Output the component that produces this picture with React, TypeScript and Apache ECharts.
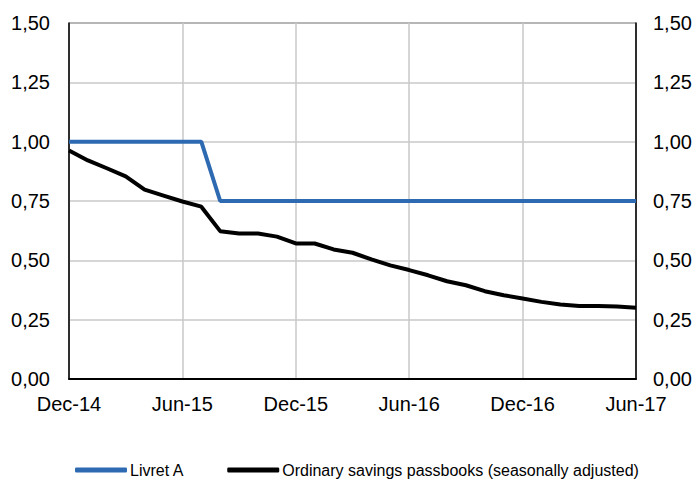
import React, { useEffect, useRef } from "react";
import * as echarts from "echarts";

const months: string[] = [
  "Dec-14", "Jan-15", "Feb-15", "Mar-15", "Apr-15", "May-15", "Jun-15",
  "Jul-15", "Aug-15", "Sep-15", "Oct-15", "Nov-15", "Dec-15",
  "Jan-16", "Feb-16", "Mar-16", "Apr-16", "May-16", "Jun-16",
  "Jul-16", "Aug-16", "Sep-16", "Oct-16", "Nov-16", "Dec-16",
  "Jan-17", "Feb-17", "Mar-17", "Apr-17", "May-17", "Jun-17",
];

const livretA: number[] = [
  1.0, 1.0, 1.0, 1.0, 1.0, 1.0, 1.0, 1.0,
  0.75, 0.75, 0.75, 0.75, 0.75, 0.75, 0.75, 0.75, 0.75, 0.75, 0.75, 0.75,
  0.75, 0.75, 0.75, 0.75, 0.75, 0.75, 0.75, 0.75, 0.75, 0.75, 0.75,
];

const ordinaryPassbooks: number[] = [
  0.963, 0.921, 0.888, 0.854, 0.798, 0.773, 0.748, 0.726, 0.623, 0.613,
  0.613, 0.6, 0.571, 0.571, 0.546, 0.532, 0.504, 0.479, 0.459, 0.437,
  0.412, 0.395, 0.37, 0.353, 0.339, 0.325, 0.314, 0.308, 0.308, 0.305, 0.3,
];

const seriesNames: string[] = [
  "Livret A",
  "Ordinary savings passbooks (seasonally adjusted)",
];

const FONT = "'Liberation Sans', Arial, sans-serif";

const fmt = (v: number) => v.toFixed(2).replace(".", ",");

export default function App() {
  const ref = useRef<HTMLDivElement>(null);

  useEffect(() => {
    if (!ref.current) return;
    const chart = echarts.init(ref.current, null, { renderer: "svg" });
    const yAxisBase = {
      type: "value" as const,
      min: 0,
      max: 1.5,
      interval: 0.25,
      axisLine: { show: true, lineStyle: { color: "#000", width: 1.5 } },
      axisTick: { show: false },
    };
    chart.setOption({
      animation: false,
      backgroundColor: "#fff",
      grid: {
        left: 69,
        right: 61,
        top: 23,
        bottom: 108,
        show: true,
        borderColor: "#000",
        borderWidth: 1,
        backgroundColor: "transparent",
      },
      legend: {
        bottom: 4,
        left: 70,
        itemGap: 43,
        itemWidth: 52,
        itemHeight: 5,
        icon: "roundRect",
        textStyle: { color: "#000", fontSize: 16, fontFamily: FONT, padding: [0, 0, 0, -2] },
        data: seriesNames,
      },
      xAxis: {
        type: "category",
        data: months,
        boundaryGap: false,
        axisLine: { show: true, lineStyle: { color: "#000", width: 2 } },
        axisTick: { show: false },
        axisLabel: {
          color: "#000",
          fontSize: 20,
          fontFamily: FONT,
          margin: 15,
          interval: (i: number) => i % 6 === 0,
          showMaxLabel: true,
        },
        splitLine: {
          show: true,
          interval: (i: number) => i % 6 === 0,
          lineStyle: { color: "#c8c8c8", width: 1.5 },
        },
      },
      yAxis: [
        {
          ...yAxisBase,
          position: "left",
          axisLabel: {
            color: "#000",
            fontSize: 20,
            fontFamily: FONT,
            margin: 19,
            formatter: (v: number) => fmt(v),
          },
          splitLine: { show: true, lineStyle: { color: "#c8c8c8", width: 1.5 } },
        },
        {
          ...yAxisBase,
          position: "right",
          axisLabel: {
            color: "#000",
            fontSize: 20,
            fontFamily: FONT,
            margin: 17,
            formatter: (v: number) => fmt(v),
          },
          splitLine: { show: false },
        },
      ],
      series: [
        {
          name: seriesNames[0],
          type: "line",
          data: livretA,
          yAxisIndex: 0,
          symbol: "none",
          lineStyle: { color: "#2e6ab1", width: 4 },
          itemStyle: { color: "#2e6ab1" },
          z: 3,
        },
        {
          name: seriesNames[1],
          type: "line",
          data: ordinaryPassbooks,
          yAxisIndex: 0,
          symbol: "none",
          lineStyle: { color: "#000", width: 4 },
          itemStyle: { color: "#000" },
          z: 2,
        },
      ],
    });
    return () => chart.dispose();
  }, []);

  return (
    <div
      ref={ref}
      style={{ position: "fixed", left: 0, top: 0, width: 697, height: 487 }}
    />
  );
}
